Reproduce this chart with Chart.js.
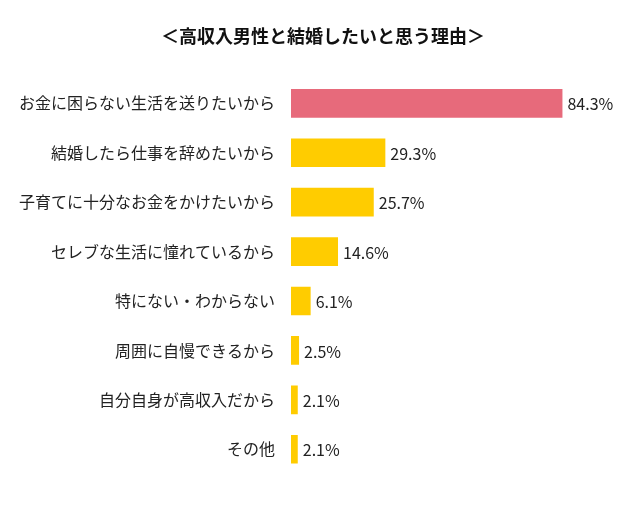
<!DOCTYPE html>
<html>
<head>
<meta charset="utf-8">
<script src="https://cdn.jsdelivr.net/npm/chart.js@4"></script>
<style>
html,body{margin:0;padding:0;background:#fff;}
#wrap{width:640px;height:506px;}
</style>
</head>
<body>
<div id="wrap"><canvas id="c" width="640" height="506"></canvas></div>
<script>
const categories = [
  "お金に困らない生活を送りたいから",
  "結婚したら仕事を辞めたいから",
  "子育てに十分なお金をかけたいから",
  "セレブな生活に憧れているから",
  "特にない・わからない",
  "周囲に自慢できるから",
  "自分自身が高収入だから",
  "その他"
];
const values = [84.3, 29.3, 25.7, 14.6, 6.1, 2.5, 2.1, 2.1];
const barColors = ["#E76A7B", "#FFCC00", "#FFCC00", "#FFCC00", "#FFCC00", "#FFCC00", "#FFCC00", "#FFCC00"];
const titleText = "＜高収入男性と結婚したいと思う理由＞";

const FONT = "'Noto Sans CJK JP', 'Noto Sans', sans-serif";

const valueLabels = {
  id: 'valueLabels',
  afterDatasetsDraw(chart) {
    const ctx = chart.ctx;
    const meta = chart.getDatasetMeta(0);
    ctx.save();
    ctx.font = "16px " + FONT;
    ctx.fillStyle = "#222";
    ctx.textAlign = "left";
    ctx.textBaseline = "middle";
    meta.data.forEach((bar, i) => {
      ctx.fillText(values[i].toFixed(1) + "%", bar.x + 5, bar.y + 1);
    });
    ctx.restore();
  }
};

// Title drawn centered on the page (built-in title reserves the space only)
const pageTitle = {
  id: 'pageTitle',
  afterDraw(chart) {
    const tb = chart.titleBlock;
    const ctx = chart.ctx;
    ctx.save();
    ctx.font = "bold 18px " + FONT;
    ctx.fillStyle = "#111";
    ctx.textAlign = "center";
    ctx.textBaseline = "middle";
    const pad = tb.options.padding;
    const y = tb.top + pad.top + (tb.height - pad.top - pad.bottom) / 2;
    ctx.fillText(titleText, 323, y);
    ctx.restore();
  }
};

new Chart(document.getElementById('c'), {
  type: 'bar',
  data: {
    labels: categories,
    datasets: [{
      data: values,
      backgroundColor: barColors,
      borderWidth: 0,
      categoryPercentage: 0.58,
      barPercentage: 1.0
    }]
  },
  options: {
    indexAxis: 'y',
    responsive: false,
    animation: false,
    layout: { padding: { left: 0, right: 27, top: 0, bottom: 32 } },
    plugins: {
      legend: { display: false },
      tooltip: { enabled: false },
      title: {
        display: true,
        text: titleText,
        color: "rgba(0,0,0,0)",
        font: { family: FONT, size: 18, weight: 'bold' },
        padding: { top: 25, bottom: 32 }
      }
    },
    scales: {
      x: {
        display: false,
        min: 0,
        max: 100
      },
      y: {
        grid: { display: false },
        border: { display: false },
        ticks: {
          color: "#222",
          font: { family: FONT, size: 16 },
          padding: 8
        },
        afterFit(scale) { scale.width = 291; }
      }
    }
  },
  plugins: [valueLabels, pageTitle]
});
</script>
</body>
</html>
